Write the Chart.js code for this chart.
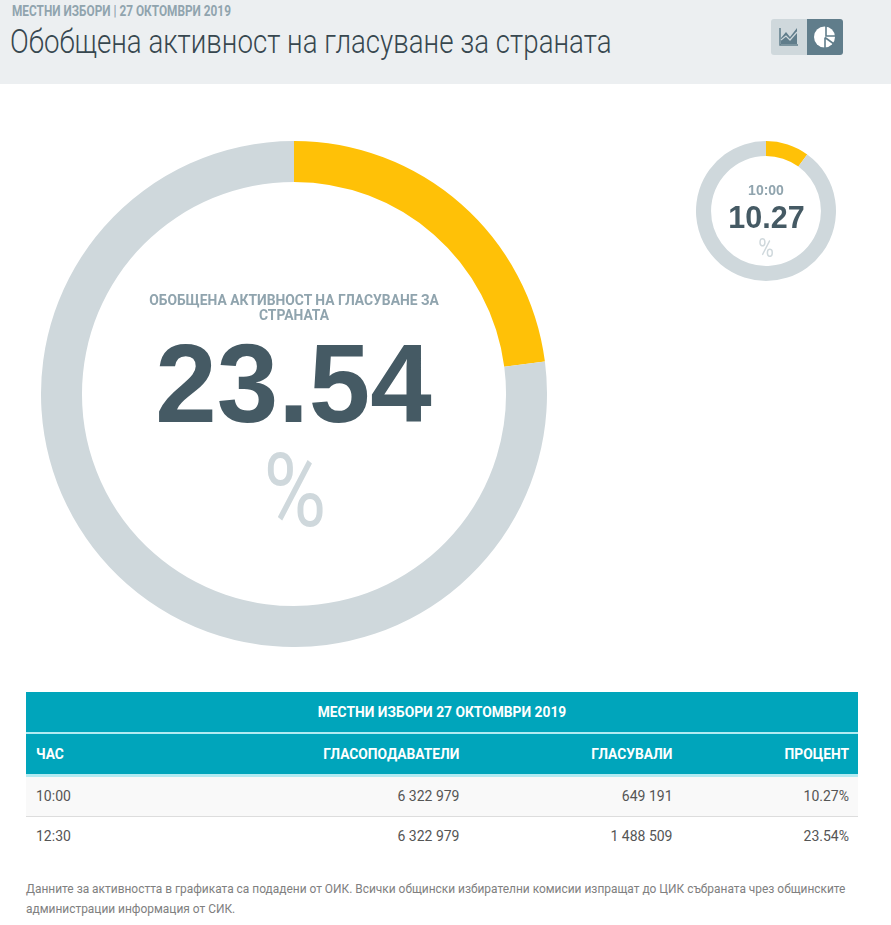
<!DOCTYPE html>
<html lang="bg"><head><meta charset="utf-8">
<script src="https://cdn.jsdelivr.net/npm/chart.js@4"></script>
<style>
html,body{margin:0;padding:0;background:#fff;width:891px;height:925px;overflow:hidden;font-family:Roboto,sans-serif}
.abs{position:absolute;white-space:nowrap}
#head{left:0;top:0;width:891px;height:84px;background:#eceff1}
#sub{left:12px;top:3px;font-size:14px;line-height:16px;font-weight:700;color:#90a4ae;transform-origin:0 0;transform:scaleX(.845)}
#ttl{left:10px;top:22px;font-size:33px;line-height:40px;font-weight:300;color:#37474f;transform-origin:0 0;transform:scaleX(.839)}
#ic1{left:771px;top:19px;width:36px;height:36px;background:#cfd8dc;border-radius:3px 0 0 3px}
#ic2{left:807px;top:19px;width:36px;height:36px;background:#607d8b;border-radius:0 3px 3px 0}
.ctr{text-align:center}
#bigL{left:140px;top:293px;width:308px;white-space:normal;font-size:13.85px;line-height:15px;font-weight:700;color:#90a4ae}
#bigV{left:93.500px;top:318.500px;width:400px;font-family:"Liberation Sans";font-size:110.500px;line-height:130px;font-weight:700;color:#455a64}
#bigP{left:94.500px;top:436px;width:400px;font-size:102px;line-height:110px;font-weight:400;color:#cfd8dc;transform:scaleX(.84)}
#smL{left:706px;top:182px;width:120px;font-family:"Liberation Sans";font-size:14px;line-height:16px;font-weight:700;color:#90a4ae}
#smV{left:706.500px;top:198px;width:120px;font-family:"Liberation Sans";font-size:30.500px;line-height:38px;font-weight:700;color:#455a64}
#smP{left:706px;top:234px;width:120px;font-size:26px;line-height:28px;font-weight:400;color:#cfd8dc;transform:scaleX(.82)}
table{position:absolute;left:26px;top:692px;width:832px;border-collapse:collapse;table-layout:fixed;font-size:14px}
th{background:#00a5bb;color:#fff;font-weight:700;font-size:13.800px;padding:0 9px;text-align:right}
td{padding:0 9px;text-align:right;color:#555;}
tr.t th{height:40px;text-align:center;border-bottom:2px solid #b2ebf2}
tr.h th{height:40px;border-bottom:3px solid #b2ebf2}
tr.a td{height:37px;padding-bottom:2px;background:#f9f9f9;border-bottom:1px solid #ddd}
tr.b td{height:38px;padding-bottom:2px}
.l{text-align:left!important;padding-left:10px!important}
#note{left:26px;top:878.500px;font-size:11.930px;line-height:20px;color:#808080}
</style></head><body>
<div class="abs" id="head"></div>
<div class="abs" id="sub"></div>
<div class="abs" id="ttl"></div>
<div class="abs" id="ic1"><svg width="36" height="36" viewBox="0 0 36 36"><path d="M9 9V26H27" fill="none" stroke="#607d8b" stroke-width="1.5"/><path d="M10 25V19L15 13L19 18L26 9V25Z" fill="#607d8b"/><path d="M10 21L15 17L19 21L26 13" fill="none" stroke="#cfd8dc" stroke-width="1.2"/></svg></div>
<div class="abs" id="ic2"><svg width="36" height="36" viewBox="0 0 36 36"><circle cx="17.500" cy="18" r="10.500" fill="#fff"/><path d="M19 7V17H29M18 18.500L27 25M18 18.500V29" fill="none" stroke="#607d8b" stroke-width="1.600"/></svg></div>

<canvas class="abs" id="bigC" style="left:41px;top:140.500px"></canvas>
<div class="abs ctr" id="bigL"></div>
<div class="abs ctr" id="bigV"></div>
<div class="abs ctr" id="bigP">%</div>

<canvas class="abs" id="smC" style="left:696px;top:141px"></canvas>
<div class="abs ctr" id="smL"></div>
<div class="abs ctr" id="smV"></div>
<div class="abs ctr" id="smP">%</div>

<table id="tb"><colgroup><col style="width:121px"><col style="width:321.500px"><col style="width:213px"><col></colgroup><tbody></tbody></table>
<div class="abs" id="note"></div>

<script>
const subtitle = "МЕСТНИ ИЗБОРИ | 27 ОКТОМВРИ 2019";
const title = "Обобщена активност на гласуване за страната";
const bigLabel = "ОБОБЩЕНА АКТИВНОСТ НА ГЛАСУВАНЕ ЗА СТРАНАТА";
const tableTitle = "МЕСТНИ ИЗБОРИ 27 ОКТОМВРИ 2019";
const columns = ["ЧАС", "ГЛАСОПОДАВАТЕЛИ", "ГЛАСУВАЛИ", "ПРОЦЕНТ"];
const hours = ["10:00", "12:30"];
const voters = ["6 322 979", "6 322 979"];
const voted = ["649 191", "1 488 509"];
const percents = [10.27, 23.54];
// grey remainder of each ring
const remainders = [92.2, 79.0];
const noteLines = ["Данните за активността в графиката са подадени от ОИК. Всички общински избирателни комисии изпращат до ЦИК събраната чрез общинските", "администрации информация от СИК."];

const $ = id => document.getElementById(id);
$("sub").textContent = subtitle;
$("ttl").textContent = title;
$("bigL").textContent = bigLabel;
$("bigV").textContent = percents[1].toFixed(2);
$("smL").textContent = hours[0];
$("smV").textContent = percents[0].toFixed(2);
$("note").innerHTML = noteLines.join("<br>");

let rows = `<tr class="t"><th colspan="4">${tableTitle}</th></tr>`;
rows += `<tr class="h">` + columns.map((c,i)=>`<th class="${i?'':'l'}">${c}</th>`).join("") + `</tr>`;
hours.forEach((h,i)=>{
  rows += `<tr class="${i?'b':'a'}"><td class="l">${h}</td><td>${voters[i]}</td><td>${voted[i]}</td><td>${percents[i].toFixed(2)}%</td></tr>`;
});
document.querySelector("#tb tbody").innerHTML = rows;

function donut(id, size, value, rest, cutout){
  const c = $(id); c.width = size; c.height = size; c.style.width = size+"px"; c.style.height = size+"px";
  new Chart(c, {
    type: "doughnut",
    data: { labels: ["Гласували","Останали"], datasets: [{ data: [value, rest], backgroundColor: ["#ffc107","#cfd8dc"], borderWidth: 0 }] },
    options: { responsive:false, animation:false, cutout, plugins:{ legend:{display:false}, tooltip:{enabled:false} }, layout:{padding:0} }
  });
}
donut("bigC", 506, percents[1], remainders[1], "83.800%");
donut("smC", 140, percents[0], remainders[0], "78.500%");
</script>
</body></html>
